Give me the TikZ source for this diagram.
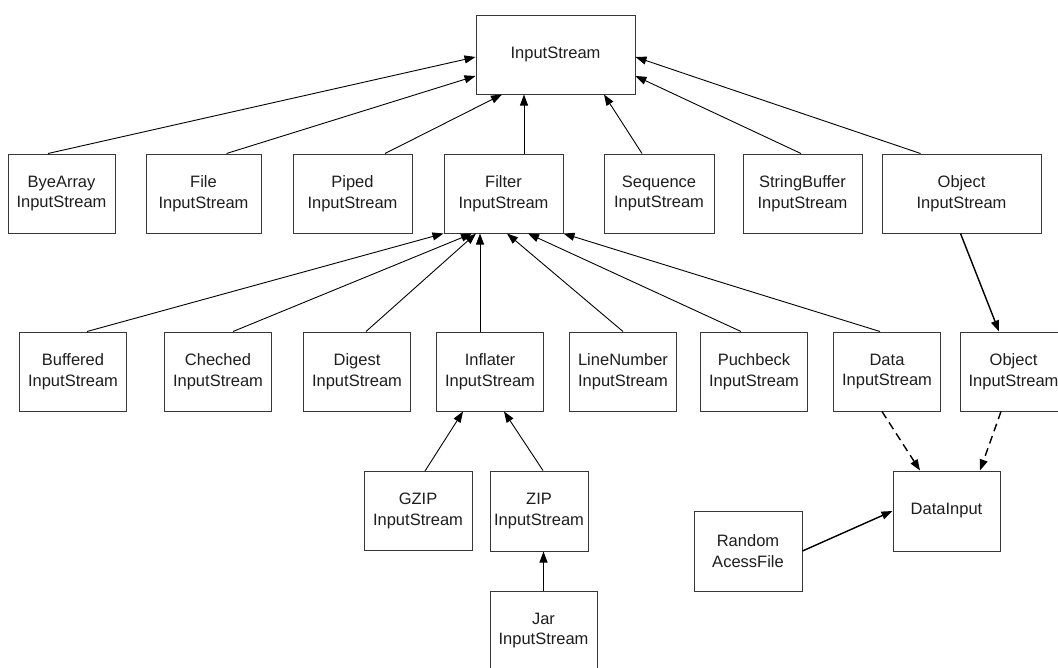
\documentclass[tikz,border=0pt]{standalone}
\usepackage{fontspec}
\setmainfont{Liberation Sans}
\usetikzlibrary{arrows.meta, positioning, calc}
\definecolor{boxline}{RGB}{55,55,55}
\definecolor{textgray}{RGB}{30,30,30}

\begin{document}
\begin{tikzpicture}[x=1pt, y=-1pt,
  cls/.style={draw=boxline, line width=1pt, fill=white, align=center, minimum height=79pt, minimum width=107pt, inner sep=0pt, text=textgray, font=\fontsize{16.5}{20.5}\selectfont},
  inherit/.style={-{Triangle[length=11pt, width=8pt]}, line width=0.9pt, draw=black},
  realize/.style={inherit, dash pattern=on 8pt off 5pt, line width=1.4pt}]
  \useasboundingbox (0,0) rectangle (1058,667);
  % top
  \node[cls, minimum width=159pt] (istream) at (555.5,54.5) {InputStream};
  % direct subclasses
  \node[cls] (bytearr) at (61.5,193.5) {ByeArray\\InputStream};
  \node[cls, minimum width=115pt] (fileis) at (203.5,193.5) {File\\InputStream};
  \node[cls, minimum width=119pt] (pipedis) at (352.5,193.5) {Piped\\InputStream};
  \node[cls, minimum width=119pt] (filteris) at (503.5,193.5) {Filter\\InputStream};
  \node[cls, minimum width=110pt] (seqis) at (659,193.5) {Sequence\\InputStream};
  \node[cls, minimum width=119pt] (sbufis) at (802.5,193.5) {StringBuffer\\InputStream};
  \node[cls, minimum width=159pt] (objis) at (961.5,193.5) {Object\\InputStream};
  % filter subclasses
  \node[cls] (bufis) at (73,371.5) {Buffered\\InputStream};
  \node[cls] (chkis) at (218,371.5) {Cheched\\InputStream};
  \node[cls] (digis) at (357,371.5) {Digest\\InputStream};
  \node[cls] (infis) at (490,371.5) {Inflater\\InputStream};
  \node[cls] (lnis) at (623,371.5) {LineNumber\\InputStream};
  \node[cls] (pbis) at (754,371.5) {Puchbeck\\InputStream};
  \node[cls] (datais) at (887,371.5) {Data\\InputStream};
  \node[cls] (objis2) at (1013.5,371.5) {Object\\InputStream};
  % lower levels
  \node[cls, minimum width=108pt] (gzipis) at (418,511) {GZIP\\InputStream};
  \node[cls, minimum width=98pt, minimum height=80pt] (zipis) at (539,511) {ZIP\\InputStream};
  \node[cls] (jaris) at (543.5,630.5) {Jar\\InputStream};
  \node[cls, minimum height=80pt] (datain) at (946.5,511) {DataInput};
  \node[cls, minimum width=108pt, minimum height=80pt] (raf) at (748,551) {Random\\AcessFile};

  % to InputStream
  \draw[inherit] ([xshift=-13.5pt]bytearr.north) -- ([yshift=-2.5pt]istream.west);
  \draw[inherit] ([xshift=23pt]fileis.north) -- ([yshift=-21.5pt]istream.west);
  \draw[inherit] ([xshift=32.5pt]pipedis.north) -- ([xshift=-53.5pt]istream.south);
  \draw[inherit] ([xshift=20.5pt]filteris.north) -- ([xshift=20.5pt]filteris.north |- istream.south);
  \draw[inherit] ([xshift=-17pt]seqis.north) -- ([xshift=48.5pt]istream.south);
  \draw[inherit] ([xshift=-1.5pt]sbufis.north) -- ([yshift=-21.5pt]istream.east);
  \draw[inherit] ([xshift=-41pt]objis.north) -- ([yshift=-2.5pt]istream.east);
  \draw[inherit, line width=1.4pt] ([xshift=-1pt]objis.south) -- ([xshift=-14.5pt]objis2.north);

  % to FilterInputStream
  \draw[inherit] ([xshift=14pt]bufis.north) -- (filteris.south west);
  \draw[inherit] ([xshift=15pt]chkis.north) -- ([xshift=-31.5pt]filteris.south);
  \draw[inherit] ([xshift=9pt]digis.north) -- ([xshift=-27.5pt]filteris.south);
  \draw[inherit] ([xshift=-10pt]infis.north) -- ([xshift=-10pt]infis.north |- filteris.south);
  \draw[inherit] (lnis.north) -- ([xshift=3.5pt]filteris.south);
  \draw[inherit] ([xshift=-13pt]pbis.north) -- ([xshift=24.5pt]filteris.south);
  \draw[inherit] ([xshift=-7pt]datais.north) -- (filteris.south east);

  % lower levels
  \draw[inherit] ([xshift=7pt]gzipis.north) -- ([xshift=-27pt]infis.south);
  \draw[inherit] ([xshift=4pt]zipis.north) -- ([xshift=14pt]infis.south);
  \draw[inherit] (jaris.north) -- (jaris.north |- zipis.south);

  % DataInput
  \draw[realize] ([xshift=-5pt]datais.south) -- ([xshift=-26.5pt]datain.north);
  \draw[realize] ([xshift=-12.5pt]objis2.south) -- ([xshift=33.5pt]datain.north);
  \draw[inherit, line width=1.4pt] (raf.east) -- (datain.west);
\end{tikzpicture}
\end{document}
